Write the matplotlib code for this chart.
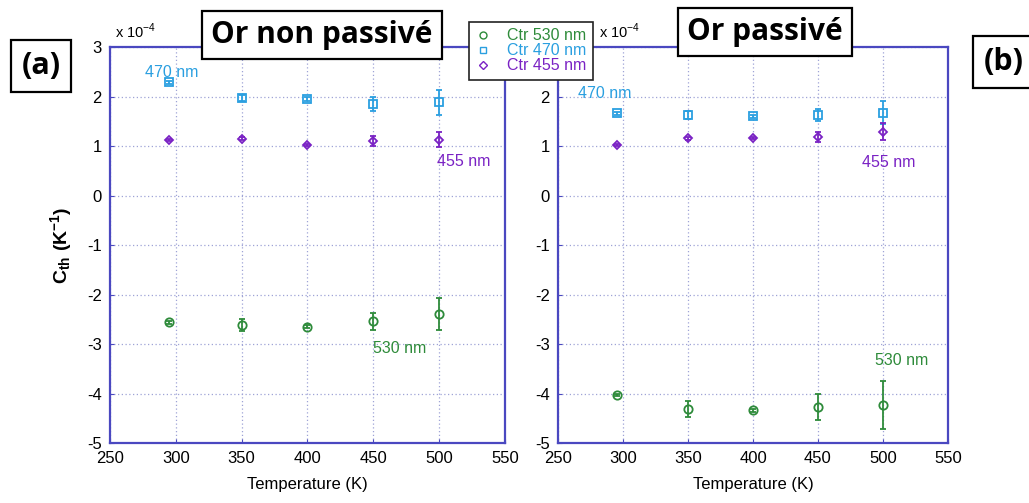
import numpy as np
import matplotlib
import matplotlib.pyplot as plt
from matplotlib.lines import Line2D

matplotlib.use('Agg')

# temperatures (K)
temps = [295, 350, 400, 450, 500]

# panel (a): gold, not passivated  (units of 1e-4 K^-1)
a_530 = [-2.56, -2.62, -2.65, -2.54, -2.40]
a_530_err = [0.03, 0.12, 0.03, 0.17, 0.32]
a_470 = [2.29, 1.97, 1.95, 1.85, 1.88]
a_470_err = [0.03, 0.07, 0.04, 0.15, 0.25]
a_455 = [1.12, 1.15, 1.03, 1.10, 1.13]
a_455_err = [0.02, 0.03, 0.02, 0.10, 0.15]

# panel (b): gold, passivated
b_530 = [-4.03, -4.31, -4.34, -4.28, -4.23]
b_530_err = [0.03, 0.16, 0.03, 0.26, 0.48]
b_470 = [1.66, 1.62, 1.60, 1.63, 1.67]
b_470_err = [0.03, 0.08, 0.03, 0.12, 0.23]
b_455 = [1.02, 1.16, 1.17, 1.19, 1.29]
b_455_err = [0.02, 0.03, 0.02, 0.10, 0.17]

series_labels = ['Ctr 530 nm', 'Ctr 470 nm', 'Ctr 455 nm']
panel_titles = ['Or non passivé', 'Or passivé']

GREEN = '#2e8b3a'
CYAN = '#2a9fe0'
PURPLE = '#7a22c4'
SPINE = '#4a48c0'
GRID = '#9fa3d6'

plt.rcParams['font.family'] = ['Liberation Sans', 'DejaVu Sans']
plt.rcParams['axes.unicode_minus'] = False
plt.rcParams['mathtext.fontset'] = 'custom'
plt.rcParams['mathtext.rm'] = 'Liberation Sans'
plt.rcParams['mathtext.bf'] = 'Liberation Sans:bold'

fig = plt.figure(figsize=(10.29, 5.03), dpi=100)
W, H = 1029, 503


def make_axes(x0, x1):
    return fig.add_axes([x0 / W, 1 - 443 / H, (x1 - x0) / W, (443 - 47) / H])


ax_a = make_axes(110, 505)
ax_b = make_axes(558, 948)


def draw_panel(ax, v530, e530, v470, e470, v455, e455, exp_x):
    kw = dict(linestyle='none', capsize=2.5, elinewidth=1.3, capthick=1.0,
              markerfacecolor='none', markeredgewidth=1.3, markersize=6)
    ax.errorbar(temps, v530, yerr=e530, marker='o', color=GREEN, **kw)
    ax.errorbar(temps, v470, yerr=e470, marker='s', color=CYAN, **kw)
    ax.errorbar(temps, v455, yerr=e455, marker='D', color=PURPLE,
                **{**kw, 'markersize': 4.5})
    ax.set_xlim(250, 550)
    ax.set_ylim(-5, 3)
    ax.set_xticks(np.arange(250, 551, 50))
    ax.set_yticks(np.arange(-5, 4, 1))
    ax.grid(True, linestyle=(0, (1, 2)), color=GRID, linewidth=0.9)
    for sp in ax.spines.values():
        sp.set_color(SPINE)
        sp.set_linewidth(1.6)
    ax.tick_params(direction='in', length=3, color=SPINE, labelsize=12, pad=6)
    ax.set_xlabel('Temperature (K)', fontsize=12, labelpad=8)
    ax.text(exp_x, 1.015, r'x 10$^{-4}$', transform=ax.transAxes,
            fontsize=10.5, ha='left', va='bottom')


draw_panel(ax_a, a_530, a_530_err, a_470, a_470_err, a_455, a_455_err, 0.012)
draw_panel(ax_b, b_530, b_530_err, b_470, b_470_err, b_455, b_455_err, 0.105)
# the top label of panel (b) sits under the legend in the original
ax_b.set_yticklabels(['-5', '-4', '-3', '-2', '-1', '0', '1', '2', ''])

# wavelength annotations
ax_a.text(297, 2.48, '470 nm', color=CYAN, fontsize=11.5, ha='center', va='center')
ax_a.text(519, 0.69, '455 nm', color=PURPLE, fontsize=11.5, ha='center', va='center')
ax_a.text(470, -3.1, '530 nm', color=GREEN, fontsize=11.5, ha='center', va='center')
ax_b.text(286, 2.07, '470 nm', color=CYAN, fontsize=11.5, ha='center', va='center')
ax_b.text(504, 0.67, '455 nm', color=PURPLE, fontsize=11.5, ha='center', va='center')
ax_b.text(514, -3.33, '530 nm', color=GREEN, fontsize=11.5, ha='center', va='center')

ax_a.set_ylabel(r'$\mathbf{C_{th}}$ $\mathbf{(K^{-1})}$', fontsize=14,
                labelpad=9)

# legend
handles = [
    Line2D([], [], linestyle='none', marker='o', markerfacecolor='none',
           markeredgecolor=GREEN, markersize=5),
    Line2D([], [], linestyle='none', marker='s', markerfacecolor='none',
           markeredgecolor=CYAN, markersize=5),
    Line2D([], [], linestyle='none', marker='D', markerfacecolor='none',
           markeredgecolor=PURPLE, markersize=4),
]
leg = fig.legend(handles, series_labels, loc='upper left',
                 bbox_to_anchor=(469 / W, 1 - 22 / H), fontsize=11.5,
                 frameon=True, fancybox=False, handlelength=1.0,
                 handletextpad=1.0, borderpad=0.4, labelspacing=0.0,
                 borderaxespad=0)
leg.get_frame().set_edgecolor('#222222')
leg.get_frame().set_linewidth(1.2)
leg.get_frame().set_alpha(1.0)
for txt, c in zip(leg.get_texts(), [GREEN, CYAN, PURPLE]):
    txt.set_color(c)

# title boxes
box = dict(boxstyle='square,pad=0.3', facecolor='white', edgecolor='black',
           linewidth=1.6)
fig.text(322 / W, 1 - 35 / H, panel_titles[0], fontsize=21.5, fontweight='bold',
         family='Open Sans', ha='center', va='center', bbox=box)
fig.text(765 / W, 1 - 32 / H, panel_titles[1], fontsize=21.5, fontweight='bold',
         family='Open Sans', ha='center', va='center', bbox=box)
box2 = dict(boxstyle='square,pad=0.35', facecolor='white', edgecolor='black',
            linewidth=1.6)
fig.text(41 / W, 1 - 66 / H, '(a)', fontsize=22, fontweight='bold',
         family='Open Sans', ha='center', va='center', bbox=box2)
fig.text(1004 / W, 1 - 62 / H, '(b)', fontsize=22, fontweight='bold',
         family='Open Sans', ha='center', va='center', bbox=box2)

fig.savefig('out.png', dpi=100)
